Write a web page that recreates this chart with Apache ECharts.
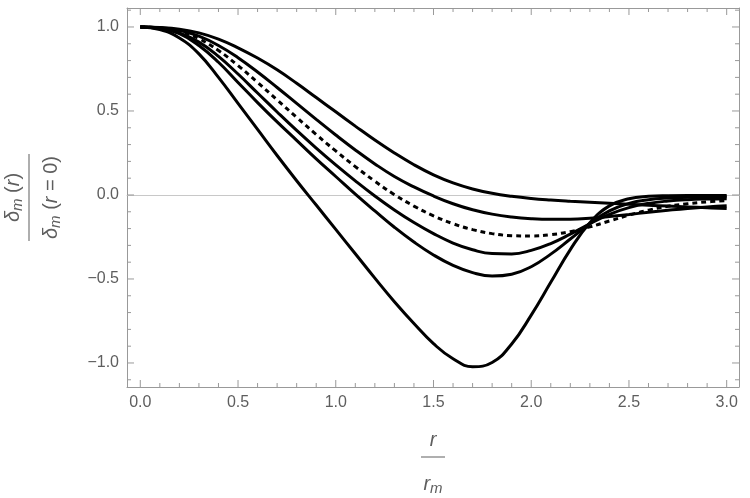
<!DOCTYPE html>
<html>
<head>
<meta charset="utf-8">
<script src="https://cdn.jsdelivr.net/npm/echarts@6/dist/echarts.min.js"></script>
<style>
  html, body { margin: 0; padding: 0; background: #fff; }
  #chart { width: 750px; height: 498px; }
</style>
</head>
<body>
<div id="chart"></div>
<script>
// r / r_m sample points
const xs = [0.0, 0.1, 0.2, 0.3, 0.4, 0.5, 0.6, 0.7, 0.8, 0.9, 1.0,
            1.1, 1.2, 1.3, 1.4, 1.5, 1.6, 1.7, 1.8, 1.9, 2.0,
            2.1, 2.2, 2.3, 2.4, 2.5, 2.6, 2.7, 2.8, 2.9, 3.0];

// profiles, from the shallowest to the deepest
const curve1 = [1.0, 0.997, 0.987, 0.965, 0.928, 0.876, 0.815, 0.745, 0.665, 0.58, 0.495,
                0.41, 0.327, 0.25, 0.18, 0.12, 0.072, 0.036, 0.01, -0.008, -0.021,
                -0.03, -0.037, -0.043, -0.049, -0.055, -0.061, -0.066, -0.071, -0.076, -0.081];
const curve2 = [1.0, 0.996, 0.98, 0.945, 0.89, 0.817, 0.732, 0.64, 0.545, 0.45, 0.357,
                0.268, 0.185, 0.11, 0.048, -0.006, -0.052, -0.088, -0.114, -0.131, -0.141,
                -0.145, -0.144, -0.138, -0.128, -0.116, -0.103, -0.091, -0.08, -0.071, -0.064];
const curveDashed = [1.0, 0.995, 0.975, 0.93, 0.86, 0.77, 0.67, 0.566, 0.462, 0.36, 0.262,
                     0.169, 0.082, 0.002, -0.066, -0.124, -0.171, -0.206, -0.23, -0.242, -0.244,
                     -0.236, -0.218, -0.19, -0.155, -0.12, -0.09, -0.067, -0.052, -0.041, -0.034];
const curve4 = [1.0, 0.992, 0.965, 0.91, 0.825, 0.72, 0.607, 0.494, 0.384, 0.279, 0.179,
                0.084, -0.006, -0.089, -0.164, -0.23, -0.286, -0.326, -0.349, -0.351, -0.33,
                -0.289, -0.233, -0.172, -0.115, -0.075, -0.05, -0.036, -0.028, -0.024, -0.022];
const curve5 = [1.0, 0.99, 0.96, 0.89, 0.79, 0.67, 0.55, 0.435, 0.325, 0.215, 0.11,
                0.005, -0.095, -0.192, -0.28, -0.357, -0.419, -0.462, -0.483, -0.472, -0.427,
                -0.352, -0.262, -0.17, -0.095, -0.05, -0.028, -0.018, -0.014, -0.012, -0.011];
const curve6 = [1.0, 0.985, 0.935, 0.84, 0.70, 0.545, 0.39, 0.235, 0.085, -0.06, -0.205,
                -0.35, -0.495, -0.635, -0.765, -0.885, -0.975, -1.022, -0.997, -0.887, -0.715,
                -0.52, -0.325, -0.165, -0.065, -0.022, -0.008, -0.004, -0.003, -0.003, -0.003];

const xTicks = [0, 0.5, 1.0, 1.5, 2.0, 2.5, 3.0];
const yTicks = [-1.0, -0.5, 0.0, 0.5, 1.0];

// plot range incl. Mathematica-like padding
const xMin = -0.068, xMax = 3.063, yMin = -1.143, yMax = 1.113;

// minor ticks: 5 steps per major interval, one extra interval each side, kept inside the range
const minorOf = (ticks, lo, hi) => {
  const step = ticks[1] - ticks[0];
  const out = [];
  for (let t = ticks[0] - step; t < ticks[ticks.length - 1] + step; t += step) {
    for (let k = 1; k < 5; k++) {
      const v = Math.round((t + k * step / 5) * 1000) / 1000;
      if (v > lo && v < hi) out.push(v);
    }
  }
  return out;
};
const xMinor = minorOf(xTicks, xMin, xMax);
const yMinor = minorOf(yTicks, yMin, yMax);

const W = 750, H = 498;
const fL = 127, fR = 739, fT = 8, fB = 387;
const pxX = (fR - fL) / (xMax - xMin);   // px per unit along x
const pxY = (fB - fT) / (yMax - yMin);   // px per unit along y

// frame tick segments (inward, 7 px major / 4 px minor), broken by '-'
const tickData = [];
const addX = (v, len) => {
  const d = len / pxY;
  tickData.push([v, yMin], [v, yMin + d], '-', [v, yMax], [v, yMax - d], '-');
};
const addY = (v, len) => {
  const d = len / pxX;
  tickData.push([xMin, v], [xMin + d, v], '-', [xMax, v], [xMax - d, v], '-');
};
xTicks.forEach(v => addX(v, 7));
xMinor.forEach(v => addX(v, 4));
yTicks.forEach(v => addY(v, 7));
yMinor.forEach(v => addY(v, 4));

const frameColor = '#999999';
const labelColor = '#5e5e5e';
const font = 'Liberation Sans';

const fmt = v => (v < 0 ? '\u2212' : '') + Math.abs(v).toFixed(1);

const frameAxis = (pos, min, max, values, extra) => Object.assign({
  type: 'value',
  gridIndex: 0,
  position: pos,
  min: min,
  max: max,
  axisLine: { show: true, onZero: false, lineStyle: { color: frameColor, width: 1 } },
  axisTick: { show: false },
  splitLine: { show: false },
  axisLabel: values
    ? { show: true, customValues: values, color: labelColor, fontFamily: font,
        fontSize: 16, margin: 8, formatter: fmt }
    : { show: false }
}, extra || {});

const txt = (o) => Object.assign({ color: labelColor, fontFamily: font }, o);

const xName = {
  name: '{i|r}\n{bar| }\n{sp| }\n{i|r}{s|m}',
  nameLocation: 'middle', nameGap: 41,
  nameTextStyle: {
    color: labelColor, fontFamily: font, align: 'center',
    rich: {
      i: txt({ fontStyle: 'italic', fontSize: 20, lineHeight: 24 }),
      s: txt({ fontStyle: 'italic', fontSize: 15, lineHeight: 15, verticalAlign: 'bottom' }),
      bar: { width: 24, height: 1, lineHeight: 10, fontSize: 1, backgroundColor: labelColor },
      sp: { fontSize: 1, lineHeight: 10, color: 'transparent' }
    }
  }
};

const yName = {
  name: '{d|\u03b4}{s|m}{t| (}{i|r}{t|)}\n{bar| }\n{sp| }\n{d|\u03b4}{s|m}{t| (}{i|r}{t| = 0)}',
  nameLocation: 'middle', nameRotate: 90, nameGap: 64,
  nameTextStyle: {
    color: labelColor, fontFamily: font, align: 'center',
    rich: {
      d: txt({ fontStyle: 'italic', fontSize: 20, lineHeight: 24 }),
      i: txt({ fontStyle: 'italic', fontSize: 20, lineHeight: 24 }),
      t: txt({ fontSize: 20, lineHeight: 24 }),
      s: txt({ fontStyle: 'italic', fontSize: 15, lineHeight: 15, verticalAlign: 'bottom' }),
      bar: { width: 87, height: 1, lineHeight: 8, fontSize: 1, backgroundColor: labelColor },
      sp: { fontSize: 1, lineHeight: 6, color: 'transparent' }
    }
  }
};

const mkSeries = (vals, dashed) => ({
  type: 'line',
  xAxisIndex: 0,
  yAxisIndex: 0,
  data: xs.map((x, i) => [x, vals[i]]),
  smooth: 0.45,
  showSymbol: false,
  clip: false,
  z: 10,
  lineStyle: { color: '#000', width: 3, type: dashed ? [5, 4] : 'solid', cap: 'butt' }
});

const tickSeries = {
  type: 'line',
  xAxisIndex: 0,
  yAxisIndex: 0,
  data: tickData,
  connectNulls: false,
  showSymbol: false,
  clip: false,
  silent: true,
  z: 5,
  lineStyle: { color: frameColor, width: 1 }
};

const chart = echarts.init(document.getElementById('chart'), null, { renderer: 'canvas' });

chart.setOption({
  backgroundColor: '#fff',
  animation: false,
  grid: [
    { left: fL, right: W - fR, top: fT, bottom: H - fB, show: false,
      containLabel: false, outerBoundsMode: 'none' }
  ],
  xAxis: [
    // zero line (axis drawn at y = 0)
    { type: 'value', gridIndex: 0, min: xMin, max: xMax,
      axisLine: { show: true, onZero: true, lineStyle: { color: '#c8c8c8', width: 1 } },
      axisTick: { show: false }, axisLabel: { show: false }, splitLine: { show: false } },
    frameAxis('bottom', xMin, xMax, xTicks, xName),
    frameAxis('top', xMin, xMax, null)
  ],
  yAxis: [
    frameAxis('left', yMin, yMax, yTicks, yName),
    frameAxis('right', yMin, yMax, null)
  ],
  series: [
    tickSeries,
    mkSeries(curve1, false),
    mkSeries(curve2, false),
    mkSeries(curveDashed, true),
    mkSeries(curve4, false),
    mkSeries(curve5, false),
    mkSeries(curve6, false)
  ]
});
</script>
</body>
</html>
